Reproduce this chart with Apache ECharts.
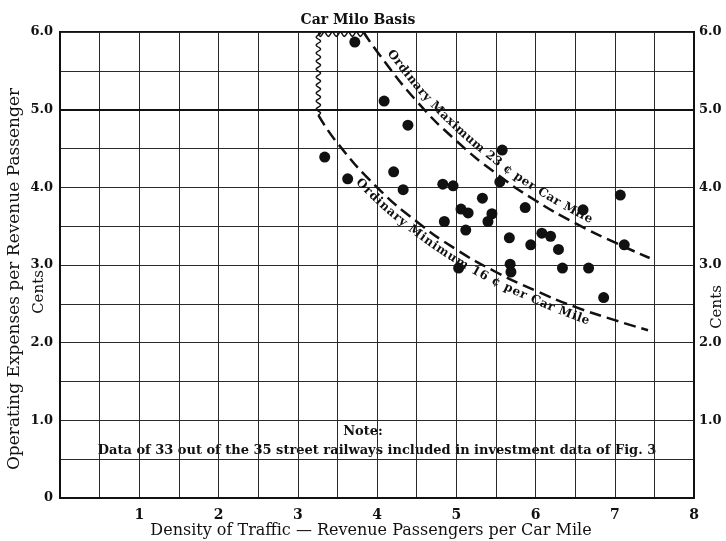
<!DOCTYPE html>
<html>
<head>
<meta charset="utf-8">
<script src="https://cdn.jsdelivr.net/npm/echarts@6/dist/echarts.min.js"></script>
<style>
  html, body { margin: 0; padding: 0; background: #fff; }
  #chart { width: 726px; height: 541px; }
</style>
</head>
<body>
<div id="chart"></div>
<script>
// Operating expenses per revenue passenger vs. density of traffic (car mile basis)

const xTickLabels = ['1', '2', '3', '4', '5', '6', '7', '8'];
const yTickLabelsLeft = ['0', '1.0', '2.0', '3.0', '4.0', '5.0', '6.0'];
const yTickLabelsRight = ['', '1.0', '2.0', '3.0', '4.0', '5.0', '6.0'];

// Density of traffic (passengers per car mile) for each railway
const density = [
  3.72, 4.09, 4.39, 3.34, 4.21, 3.63, 4.33, 4.83, 4.96, 5.58, 5.55,
  7.07, 5.33, 5.06, 5.15, 5.45, 5.40, 4.85, 5.12, 5.67, 5.68, 5.69,
  5.03, 5.87, 6.60, 6.08, 6.19, 5.94, 6.29, 7.12, 6.34, 6.67, 6.86
];
// Operating expenses per revenue passenger, cents
const expense = [
  5.87, 5.11, 4.80, 4.39, 4.20, 4.11, 3.97, 4.04, 4.02, 4.48, 4.07,
  3.90, 3.86, 3.72, 3.67, 3.66, 3.56, 3.56, 3.45, 3.35, 3.01, 2.91,
  2.96, 3.74, 3.71, 3.41, 3.37, 3.26, 3.20, 3.26, 2.96, 2.96, 2.58
];

// Ordinary maximum, 23 cents per car mile
const maxCurveX = [3.83, 4.0, 4.5, 5.0, 5.5, 6.0, 6.5, 7.0, 7.44];
const maxCurveY = [6.0, 5.75, 5.11, 4.6, 4.18, 3.83, 3.54, 3.29, 3.09];
// Ordinary minimum, 16 cents per car mile
const minCurveX = [3.26, 3.5, 4.0, 4.5, 5.0, 5.5, 6.0, 6.5, 7.0, 7.42];
const minCurveY = [4.93, 4.57, 4.0, 3.56, 3.2, 2.91, 2.67, 2.46, 2.29, 2.16];

// Broken-off boundary of the band (wavy edge)
const edgeX = [3.26, 3.26, 3.83];
const edgeY = [4.93, 6.0, 6.0];

const maxLabel = 'Ordinary Maximum 23 \u00a2 per Car Mile';
const minLabel = 'Ordinary Minimum 16 \u00a2 per Car Mile';
const titleText = 'Car Milo Basis';
const yName = 'Operating Expenses per Revenue Passenger';
const xName = 'Density of Traffic \u2014 Revenue Passengers per Car Mile';
const unitName = 'Cents';
const noteHead = 'Note:';
const noteBody = 'Data of 33 out of the 35 street railways included in investment data of Fig. 3';

const zip = (xs, ys) => xs.map((x, i) => [x, ys[i]]);
const points = zip(density, expense);
const maxCurve = zip(maxCurveX, maxCurveY);
const minCurve = zip(minCurveX, minCurveY);
const edge = zip(edgeX, edgeY);

const INK = '#111';
const SERIF = 'DejaVu Serif';

const measureCtx = document.createElement('canvas').getContext('2d');

// Smooth pixel path through the given pixel points (Catmull-Rom)
function densify(px) {
  const out = [];
  for (let i = 0; i < px.length - 1; i++) {
    const p0 = px[Math.max(i - 1, 0)], p1 = px[i], p2 = px[i + 1], p3 = px[Math.min(i + 2, px.length - 1)];
    for (let k = 0; k < 20; k++) {
      const t = k / 20, t2 = t * t, t3 = t2 * t;
      const f = (a, b, c, d) => 0.5 * ((2 * b) + (-a + c) * t + (2 * a - 5 * b + 4 * c - d) * t2 + (-a + 3 * b - 3 * c + d) * t3);
      out.push([f(p0[0], p1[0], p2[0], p3[0]), f(p0[1], p1[1], p2[1], p3[1])]);
    }
  }
  out.push(px[px.length - 1]);
  return out;
}

// Lay text out character by character along a curve
function textAlong(api, curve, text, startX, offset, font, spacing) {
  const pts = densify(curve.map(p => api.coord(p)));
  const cum = [0];
  for (let i = 1; i < pts.length; i++) {
    cum.push(cum[i - 1] + Math.hypot(pts[i][0] - pts[i - 1][0], pts[i][1] - pts[i - 1][1]));
  }
  const sx = api.coord([startX, 0])[0];
  let s0 = 0;
  for (let i = 0; i < pts.length; i++) { if (pts[i][0] >= sx) { s0 = cum[i]; break; } }
  const at = s => {
    let i = 1;
    while (i < cum.length - 1 && cum[i] < s) i++;
    const a = pts[i - 1], b = pts[i];
    const seg = cum[i] - cum[i - 1] || 1;
    const t = (s - cum[i - 1]) / seg;
    const dx = b[0] - a[0], dy = b[1] - a[1], L = Math.hypot(dx, dy) || 1;
    return { x: a[0] + dx * t, y: a[1] + dy * t, tx: dx / L, ty: dy / L };
  };
  measureCtx.font = font;
  const kids = [];
  let cursor = s0;
  for (const ch of text) {
    const w = measureCtx.measureText(ch).width;
    const p = at(cursor + w / 2);
    kids.push({
      type: 'text',
      x: p.x + p.ty * offset,
      y: p.y - p.tx * offset,
      rotation: -Math.atan2(p.ty, p.tx),
      style: { text: ch, font: font, fill: INK, align: 'center', verticalAlign: 'middle' }
    });
    cursor += w + spacing;
  }
  return kids;
}

// Wavy polyline between successive pixel points
function wavy(px, amp, period) {
  const out = [];
  for (let i = 0; i < px.length - 1; i++) {
    const a = px[i], b = px[i + 1];
    const dx = b[0] - a[0], dy = b[1] - a[1], L = Math.hypot(dx, dy);
    const nx = -dy / L, ny = dx / L;
    const n = Math.max(2, Math.round(L));
    for (let k = 0; k <= n; k++) {
      const t = k / n;
      const w = amp * Math.sin(2 * Math.PI * (t * L) / period);
      const bias = i === px.length - 2 ? amp : 0;
      out.push([a[0] + dx * t + nx * (w + bias), a[1] + dy * t + ny * (w + bias)]);
    }
  }
  return out;
}

const chart = echarts.init(document.getElementById('chart'), null, { renderer: 'canvas' });

const labelFont = 'bold 12px "' + SERIF + '"';
const textStyle = (x, y, text, font, rot) => ({
  type: 'text', x: x, y: y, rotation: rot || 0,
  style: { text: text, font: font, fill: INK, align: 'center', verticalAlign: 'middle' }
});

chart.setOption({
  backgroundColor: '#fff',
  animation: false,
  title: {
    text: titleText,
    left: 353, top: 8,
    textAlign: 'center',
    textStyle: { fontFamily: SERIF, fontWeight: 'bold', fontSize: 14, color: INK }
  },
  grid: { left: 60, right: 32, top: 32, bottom: 43, show: true, borderColor: INK, borderWidth: 2 },
  xAxis: {
    type: 'value', min: 0, max: 8, interval: 0.5,
    axisLine: { show: true, lineStyle: { color: INK, width: 2 } },
    axisTick: { show: false },
    splitLine: { show: true, lineStyle: { color: '#2a2a2a', width: 1 } },
    axisLabel: {
      margin: 10, color: INK, fontFamily: SERIF, fontWeight: 'bold', fontSize: 14,
      formatter: v => (Number.isInteger(v) && v >= 1) ? xTickLabels[v - 1] : ''
    }
  },
  yAxis: [{
    type: 'value', min: 0, max: 6, interval: 0.5, position: 'left',
    axisLine: { show: true, lineStyle: { color: INK, width: 2 } },
    axisTick: { show: false },
    splitLine: { show: true, lineStyle: { color: '#2a2a2a', width: 1 } },
    axisLabel: {
      margin: 7, color: INK, fontFamily: SERIF, fontWeight: 'bold', fontSize: 13,
      formatter: v => Number.isInteger(v) ? yTickLabelsLeft[v] : ''
    }
  }, {
    type: 'value', min: 0, max: 6, interval: 0.5, position: 'right',
    axisLine: { show: true, lineStyle: { color: INK, width: 2 } },
    axisTick: { show: false },
    splitLine: { show: false },
    axisLabel: {
      margin: 5, color: INK, fontFamily: SERIF, fontWeight: 'bold', fontSize: 13,
      formatter: v => Number.isInteger(v) ? yTickLabelsRight[v] : ''
    }
  }],
  graphic: [
    textStyle(371, 531, xName, '16px "' + SERIF + '"'),
    textStyle(15, 279, yName, '17px "' + SERIF + '"', Math.PI / 2),
    textStyle(39, 292, unitName, '15px "' + SERIF + '"', Math.PI / 2),
    textStyle(717, 307, unitName, '15px "' + SERIF + '"', Math.PI / 2),
    textStyle(363, 432, noteHead, 'bold 13px "' + SERIF + '"'),
    textStyle(377, 451, noteBody, 'bold 13px "' + SERIF + '"')
  ],
  series: [
    {
      type: 'line', data: maxCurve, smooth: true, symbol: 'none',
      lineStyle: { color: INK, width: 2.5, type: [12, 6] }, z: 3,
      markLine: {
        silent: true, symbol: 'none', label: { show: false },
        lineStyle: { color: INK, width: 2, type: 'solid' },
        data: [{ yAxis: 5 }]
      }
    },
    {
      type: 'line', data: minCurve, smooth: true, symbol: 'none',
      lineStyle: { color: INK, width: 2.5, type: [12, 6] }, z: 3
    },
    {
      type: 'custom', data: [[0, 0]], z: 4, silent: true,
      renderItem: (params, api) => ({
        type: 'polyline',
        shape: { points: wavy(edge.map(p => api.coord(p)), 2.2, 8) },
        style: { stroke: INK, lineWidth: 1.4, fill: null }
      })
    },
    {
      type: 'custom', data: [[0, 0]], z: 5, silent: true,
      renderItem: (params, api) => ({
        type: 'group',
        children: textAlong(api, maxCurve, maxLabel, 4.04, 10, labelFont, 0.55)
          .concat(textAlong(api, minCurve, minLabel, 3.82, -9, labelFont, 0.55))
      })
    },
    {
      type: 'scatter', data: points, symbol: 'circle', symbolSize: 11,
      itemStyle: { color: INK, opacity: 1 }, z: 6
    }
  ]
});
</script>
</body>
</html>
